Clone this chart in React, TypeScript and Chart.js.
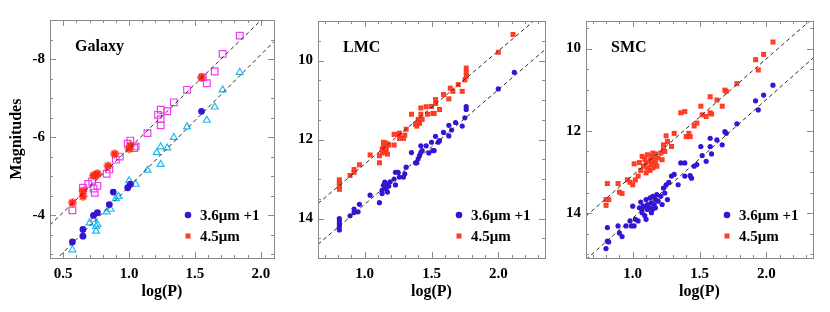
import React, { useEffect, useRef } from "react";
import { Chart, registerables } from "chart.js";
Chart.register(...registerables);

// ---------------- Galaxy ----------------
const galaxyLogP45 = [0.57, 0.65, 0.65, 0.73, 0.75, 0.76, 0.84, 0.89, 1.0, 1.01, 1.55];
const galaxyMag45 = [-4.32, -4.62, -4.48, -5.01, -5.03, -5.06, -5.26, -5.57, -5.7, -5.78, -7.53];

const galaxyLogP36 = [0.57, 0.65, 0.65, 0.73, 0.76, 0.85, 0.88, 0.99, 1.01, 1.55];
const galaxyMag36 = [-3.31, -3.63, -3.46, -3.99, -4.06, -4.27, -4.59, -4.7, -4.79, -6.66];

const galaxySqLogP = [0.57, 0.65, 0.69, 0.72, 0.74, 0.76, 0.73, 0.83, 0.85, 0.9, 0.93, 0.99, 1.01, 1.04, 1.05, 1.14, 1.22, 1.24, 1.24, 1.24, 1.29, 1.34, 1.44, 1.56, 1.59, 1.65, 1.71, 1.84];
const galaxySqMag = [-4.12, -4.7, -4.8, -4.86, -4.57, -4.75, -4.68, -5.06, -5.17, -5.42, -5.5, -5.83, -5.91, -5.72, -5.76, -6.1, -6.57, -6.7, -6.46, -6.3, -6.66, -6.89, -7.21, -7.53, -7.38, -7.68, -8.13, -8.6];

const galaxyTriLogP = [0.57, 0.7, 0.73, 0.75, 0.75, 0.76, 0.83, 0.86, 0.9, 0.92, 1.0, 1.05, 1.14, 1.21, 1.24, 1.24, 1.29, 1.34, 1.44, 1.59, 1.65, 1.71, 1.84];
const galaxyTriMag = [-3.11, -3.8, -3.88, -3.59, -3.71, -3.76, -4.08, -4.15, -4.42, -4.48, -4.88, -4.79, -5.15, -5.6, -5.75, -5.3, -5.72, -5.99, -6.26, -6.43, -6.77, -7.21, -7.66];

const galaxyFitSlopes = [-3.28, -3.38];
const galaxyFitZeros = [-5.71, -4.73]; // magnitude at log(P) = 1

// ---------------- LMC ----------------
const lmcLogP45 = [
  0.81, 0.81, 0.81, 0.81, 0.89, 0.92, 0.92, 0.96, 1.04, 1.11, 1.11,
  1.13, 1.14, 1.15, 1.16, 1.16, 1.17, 1.18, 1.13, 1.14, 1.15, 1.16,
  1.22, 1.22, 1.25, 1.26, 1.26, 1.29, 1.3, 1.31,
  1.35, 1.38, 1.39, 1.4, 1.41, 1.42, 1.42, 1.43, 1.46, 1.47, 1.5, 1.51, 1.52, 1.53, 1.53, 1.56,
  1.59, 1.63, 1.64, 1.66, 1.7, 1.73, 1.75, 1.76, 1.76, 1.76, 2.0, 2.11,
];
const lmcMag45 = [
  13.02, 13.1, 13.18, 13.26, 12.91, 12.76, 12.83, 12.64, 12.39, 12.59, 12.41,
  12.24, 12.16, 12.28, 12.09, 12.2, 12.37, 12.14, 12.34, 12.07, 12.32, 12.25,
  12.14, 11.87, 11.87, 11.84, 11.97, 11.97, 11.89, 11.74,
  11.36, 11.61, 11.66, 11.49, 11.59, 11.2, 11.36, 11.49, 11.17, 11.36, 11.16, 11.34, 11.34, 10.99, 11.09, 11.24,
  10.86, 10.97, 10.7, 10.78, 10.61, 10.78, 10.49, 10.19, 10.3, 10.39, 9.79, 9.34,
];

const lmcLogP36 = [
  0.81, 0.81, 0.81, 0.81, 0.81, 0.89, 0.92, 0.92, 0.95, 0.96, 1.04,
  1.11, 1.13, 1.13, 1.14, 1.15, 1.16, 1.16, 1.17, 1.18, 1.19,
  1.22, 1.23, 1.23, 1.25, 1.26, 1.29, 1.3, 1.31,
  1.35, 1.38, 1.39, 1.4, 1.41, 1.42, 1.42, 1.43, 1.46, 1.48, 1.5, 1.51, 1.52, 1.53, 1.55, 1.56,
  1.59, 1.63, 1.63, 1.65, 1.68, 1.73, 1.75, 1.76, 1.76, 2.0, 2.12,
];
const lmcMag36 = [
  14.0, 14.06, 14.13, 14.2, 14.29, 13.93, 13.76, 13.85, 13.83, 13.64, 13.41,
  13.6, 13.37, 13.29, 13.16, 13.08, 13.24, 13.12, 13.33, 13.18, 13.07,
  13.0, 13.15, 12.83, 12.83, 12.95, 12.95, 12.87, 12.7,
  12.33, 12.59, 12.59, 12.49, 12.41, 12.16, 12.33, 12.28, 12.16, 12.34, 12.07, 12.28, 12.28, 11.92, 12.07, 12.03,
  11.82, 11.91, 11.64, 11.76, 11.57, 11.66, 11.45, 11.17, 11.24, 10.72, 10.3,
];

const lmcFitSlopes = [-2.86, -2.9];
const lmcFitZeros = [12.62, 13.64];

// ---------------- SMC ----------------
const smcLogP45 = [
  0.81, 0.8, 0.8, 0.82, 0.89, 0.9, 0.92,
  0.96, 0.98, 1.0, 1.01, 1.02, 1.04, 1.05, 1.06, 1.07, 1.08, 1.09, 1.1, 1.1, 1.11, 1.11, 1.13, 1.13,
  1.14, 1.14, 1.15, 1.15, 1.16, 1.17, 1.17, 1.18, 1.19, 1.21, 1.22, 1.23, 1.23, 1.24, 1.25, 1.26, 1.29, 1.31,
  1.36, 1.39, 1.4, 1.42, 1.43, 1.46, 1.48, 1.51, 1.52, 1.55, 1.58, 1.58, 1.59, 1.63, 1.67, 1.69, 1.7,
  1.78, 1.92, 1.94, 1.98, 2.05,
];
const smcMag45 = [
  13.28, 13.67, 13.81, 13.67, 13.28, 13.49, 13.52,
  13.19, 13.25, 13.31, 12.8, 13.19, 13.1, 12.77, 12.96, 12.62, 12.86, 12.69, 12.78, 13.02, 12.58, 12.9, 12.72, 12.96,
  12.62, 12.82, 12.54, 12.9, 12.69, 12.78, 12.56, 12.86, 12.66, 12.54, 12.7, 12.46, 12.34, 12.5, 12.12, 12.26, 12.38, 12.06,
  11.56, 11.53, 12.14, 12.06, 12.14, 11.88, 11.81, 11.4, 11.61, 11.65, 11.17, 11.56, 11.59, 11.25, 11.4, 11.01, 11.04,
  10.85, 10.27, 10.52, 10.14, 9.84,
];

const smcLogP36 = [
  0.8, 0.81, 0.82, 0.81,
  0.89, 0.9, 0.92, 0.95, 0.98, 0.99, 1.01, 1.0, 1.02, 1.04, 1.05, 1.06, 1.07, 1.07, 1.08, 1.09,
  1.1, 1.1, 1.11, 1.11, 1.13, 1.13, 1.14, 1.14, 1.15, 1.15, 1.16, 1.17, 1.17, 1.18, 1.19, 1.21,
  1.22, 1.23, 1.24, 1.25, 1.26, 1.27, 1.29, 1.31, 1.34,
  1.36, 1.39, 1.39, 1.43, 1.44, 1.46, 1.48, 1.51, 1.52, 1.55, 1.58, 1.58, 1.59, 1.63, 1.67, 1.69, 1.7,
  1.78, 1.92, 1.94, 1.98, 2.05,
];
const smcMag36 = [
  14.86, 14.68, 14.7, 14.35,
  14.31, 14.48, 14.57, 14.31, 14.19, 14.31, 14.31, 13.83, 14.15, 14.19, 13.87, 13.73, 13.99, 13.91, 13.83, 14.06,
  13.67, 14.15, 13.79, 13.91, 13.63, 13.87, 13.99, 13.75, 13.9, 13.59, 13.79, 13.67, 13.87, 13.55, 13.71, 13.59,
  13.79, 13.39, 13.51, 13.31, 13.67, 13.25, 13.1, 13.06, 13.31,
  12.78, 12.78, 13.1, 13.09, 13.15, 12.86, 12.82, 12.38, 12.6, 12.74, 12.38, 12.18, 12.56, 12.22, 12.34, 12.02, 12.06,
  11.83, 11.27, 11.49, 11.13, 10.89,
];

const smcFitSlopes = [-2.83, -2.88];
const smcFitZeros = [13.08, 14.12];

// ---------------- labels ----------------
const panelTitles = ["Galaxy", "LMC", "SMC"];
const legendLabels = ["3.6\u03bcm +1", "4.5\u03bcm"];
const xAxisTitle = "log(P)";
const yAxisTitle = "Magnitudes";
const galaxyXTicks = [0.5, 1.0, 1.5, 2.0];
const cloudXTicks = [1.0, 1.5, 2.0];
const galaxyYTicks = [-8, -6, -4];
const lmcYTicks = [10, 12, 14];
const smcYTicks = [10, 12, 14];

// ---------------- styling ----------------
const FONT = '"Liberation Serif", "Times New Roman", Times, serif';
const BLUE = "#3414d8";
const RED = "#ff2a14";
const MAGENTA = "#ee3cee";
const CYAN = "#1fbbee";
const FRAME = "#8a8a8a";

function pts(xs: number[], ys: number[]) {
  return xs.map((x, i) => ({ x, y: ys[i] }));
}
function fitPts(slope: number, zero: number, xmin: number, xmax: number) {
  return [xmin, xmax].map((x) => ({ x, y: zero + slope * (x - 1) }));
}

function makeStar(r: number, lw: number, color: string) {
  const s = Math.ceil(2 * r + lw + 2);
  const c = document.createElement("canvas");
  c.width = s;
  c.height = s;
  const g = c.getContext("2d")!;
  g.strokeStyle = color;
  g.lineWidth = lw;
  g.lineCap = "butt";
  const m = s / 2;
  for (let k = 0; k < 4; k++) {
    const ang = (k * Math.PI) / 4;
    g.beginPath();
    g.moveTo(m - r * Math.cos(ang), m - r * Math.sin(ang));
    g.lineTo(m + r * Math.cos(ang), m + r * Math.sin(ang));
    g.stroke();
  }
  g.fillStyle = color;
  g.beginPath();
  g.arc(m, m, r * 0.45, 0, Math.PI * 2);
  g.fill();
  return c;
}

function makeBoxX(size: number) {
  const s = size + 2;
  const c = document.createElement("canvas");
  c.width = s;
  c.height = s;
  const g = c.getContext("2d")!;
  g.fillStyle = "rgba(255,160,140,0.8)";
  g.fillRect(1, 1, size, size);
  g.strokeStyle = "#ff2a10";
  g.lineWidth = 1.2;
  g.beginPath();
  g.moveTo(1.5, 1.5);
  g.lineTo(size + 0.5, size + 0.5);
  g.moveTo(size + 0.5, 1.5);
  g.lineTo(1.5, size + 0.5);
  g.stroke();
  g.lineWidth = 1;
  g.strokeStyle = "rgba(255,50,30,0.9)";
  g.strokeRect(1.5, 1.5, size - 1, size - 1);
  return c;
}

const decorPlugin = {
  id: "decor",
  afterDatasetsDraw(chart: any, _args: any, o: any) {
    const { ctx, chartArea: a, scales } = chart;
    const xs = scales.x;
    const ys = scales.y;
    ctx.save();
    ctx.strokeStyle = FRAME;
    ctx.lineWidth = 1;
    const tick = (scale: any, step: number, major: number, horiz: boolean) => {
      const lo = Math.min(scale.min, scale.max);
      const hi = Math.max(scale.min, scale.max);
      for (let i = Math.ceil(lo / step - 1e-9); i <= Math.floor(hi / step + 1e-9); i++) {
        const v = i * step;
        const r = v / major;
        const isMaj = Math.abs(r - Math.round(r)) < 1e-6;
        const len = isMaj ? 6 : 3;
        const p = Math.round(scale.getPixelForValue(v)) + 0.5;
        ctx.beginPath();
        if (horiz) {
          ctx.moveTo(p, a.bottom);
          ctx.lineTo(p, a.bottom - len);
          ctx.moveTo(p, a.top);
          ctx.lineTo(p, a.top + len);
        } else {
          ctx.moveTo(a.left, p);
          ctx.lineTo(a.left + len, p);
          ctx.moveTo(a.right, p);
          ctx.lineTo(a.right - len, p);
        }
        ctx.stroke();
      }
    };
    tick(xs, o.xMinor, o.xMajor, true);
    tick(ys, o.yMinor, o.yMajor, false);
    ctx.strokeRect(Math.round(a.left) + 0.5, Math.round(a.top) + 0.5, Math.round(a.width), Math.round(a.height));

    ctx.fillStyle = "#000";
    ctx.font = `bold 16px ${FONT}`;
    ctx.textAlign = "left";
    ctx.textBaseline = "alphabetic";
    ctx.fillText(o.title, a.left + 25, a.top + 31);

    ctx.font = `bold 15px ${FONT}`;
    ctx.textBaseline = "middle";
    const mx = a.right - 86;
    const tx = a.right - 74;
    const y1 = a.bottom - 43;
    const y2 = a.bottom - 22;
    ctx.fillStyle = BLUE;
    ctx.beginPath();
    ctx.arc(mx, y1, 3.3, 0, Math.PI * 2);
    ctx.fill();
    const lm = o.legendMarker;
    ctx.drawImage(lm, mx - lm.width / 2, y2 - lm.height / 2);
    ctx.fillStyle = "#000";
    ctx.fillText(legendLabels[0], tx, y1 + 1);
    ctx.fillText(legendLabels[1], tx, y2 + 1);
    ctx.restore();
  },
};

function buildConfig(p: any) {
  const tickFont = { family: FONT, size: 15, weight: "bold" as const };
  const titleFont = { family: FONT, size: 16, weight: "bold" as const };
  return {
    type: "scatter" as const,
    data: { datasets: p.datasets },
    plugins: [decorPlugin],
    options: {
      responsive: false,
      animation: false as const,
      events: [] as any[],
      layout: { padding: { left: 0, top: p.padTop, right: p.padRight, bottom: 0 } },
      plugins: {
        legend: { display: false },
        tooltip: { enabled: false },
        decor: {
          xMinor: 0.1,
          xMajor: 0.5,
          yMinor: 0.5,
          yMajor: 2,
          title: p.title,
          legendMarker: p.legendMarker,
        },
      },
      scales: {
        x: {
          type: "linear" as const,
          min: p.xMin,
          max: p.xMax,
          grid: { display: false, drawTicks: false },
          border: { display: false },
          afterBuildTicks: (s: any) => {
            s.ticks = p.xTicks.map((v: number) => ({ value: v }));
          },
          afterFit: (s: any) => {
            s.height = 54;
          },
          ticks: {
            autoSkip: false,
            maxRotation: 0,
            padding: 7,
            color: "#000",
            font: tickFont,
            callback: (v: any) => Number(v).toFixed(1),
          },
          title: {
            display: true,
            text: xAxisTitle,
            color: "#000",
            font: titleFont,
            padding: { top: 0, bottom: 11 },
          },
        },
        y: {
          type: "linear" as const,
          reverse: true,
          min: p.yMin,
          max: p.yMax,
          grid: { display: false, drawTicks: false },
          border: { display: false },
          afterBuildTicks: (s: any) => {
            s.ticks = p.yTicks.map((v: number) => ({ value: v }));
          },
          afterFit: (s: any) => {
            s.width = p.yAxisWidth;
          },
          ticks: {
            autoSkip: false,
            padding: 5,
            color: "#000",
            font: tickFont,
            callback: (v: any) => String(v),
          },
          title: {
            display: !!p.yTitle,
            text: p.yTitle || "",
            color: "#000",
            font: titleFont,
            padding: { top: 7, bottom: 0 },
          },
        },
      },
    },
  };
}

function lineDs(slope: number, zero: number, xmin: number, xmax: number) {
  return {
    data: fitPts(slope, zero, xmin, xmax),
    showLine: true,
    pointRadius: 0,
    borderColor: "#2a2a2a",
    borderWidth: 1,
    borderDash: [4, 3],
    order: 0,
  };
}

function makePanels() {
  const bigStar = makeStar(4.3, 2, RED);
  const boxX = makeBoxX(5);
  const galaxy = {
    yAxisWidth: 50, padTop: 20, padRight: 4,
    xMin: 0.4, xMax: 2.1, yMin: -9, yMax: -2.9,
    xTicks: galaxyXTicks, yTicks: galaxyYTicks,
    title: panelTitles[0], yTitle: yAxisTitle, legendMarker: boxX,
    datasets: [
      lineDs(galaxyFitSlopes[0], galaxyFitZeros[0], 0.4, 2.1),
      lineDs(galaxyFitSlopes[1], galaxyFitZeros[1], 0.4, 2.1),
      { data: pts(galaxyLogP45, galaxyMag45), pointStyle: bigStar, pointRadius: 5, order: 1 },
      { data: pts(galaxyLogP36, galaxyMag36), pointStyle: "circle", pointRadius: 3.4, backgroundColor: BLUE, borderWidth: 0, order: 2 },
      { data: pts(galaxySqLogP, galaxySqMag), pointStyle: "rect", pointRadius: 4.7, backgroundColor: "rgba(0,0,0,0)", borderColor: MAGENTA, borderWidth: 1.2, order: 3 },
      { data: pts(galaxyTriLogP, galaxyTriMag), pointStyle: "triangle", pointRadius: 4, backgroundColor: "rgba(0,0,0,0)", borderColor: CYAN, borderWidth: 1.2, order: 4 },
    ],
  };
  const lmc = {
    yAxisWidth: 48, padTop: 21, padRight: 4,
    xMin: 0.65, xMax: 2.35, yMin: 9, yMax: 15,
    xTicks: cloudXTicks, yTicks: lmcYTicks,
    title: panelTitles[1], yTitle: "", legendMarker: boxX,
    datasets: [
      lineDs(lmcFitSlopes[0], lmcFitZeros[0], 0.65, 2.35),
      lineDs(lmcFitSlopes[1], lmcFitZeros[1], 0.65, 2.35),
      { data: pts(lmcLogP45, lmcMag45), pointStyle: boxX, pointRadius: 4, order: 1 },
      { data: pts(lmcLogP36, lmcMag36), pointStyle: "circle", pointRadius: 2.6, backgroundColor: BLUE, borderWidth: 0, order: 2 },
    ],
  };
  const smc = {
    yAxisWidth: 46, padTop: 21, padRight: 17,
    xMin: 0.65, xMax: 2.35, yMin: 9.33, yMax: 15.09,
    xTicks: cloudXTicks, yTicks: smcYTicks,
    title: panelTitles[2], yTitle: "", legendMarker: boxX,
    datasets: [
      lineDs(smcFitSlopes[0], smcFitZeros[0], 0.65, 2.35),
      lineDs(smcFitSlopes[1], smcFitZeros[1], 0.65, 2.35),
      { data: pts(smcLogP45, smcMag45), pointStyle: boxX, pointRadius: 4, order: 1 },
      { data: pts(smcLogP36, smcMag36), pointStyle: "circle", pointRadius: 2.6, backgroundColor: BLUE, borderWidth: 0, order: 2 },
    ],
  };
  return [galaxy, lmc, smc];
}

const canvasLayout = [
  { left: 0, width: 280 },
  { left: 270, width: 280 },
  { left: 540, width: 290 },
];

export default function App() {
  const r0 = useRef<HTMLCanvasElement>(null);
  const r1 = useRef<HTMLCanvasElement>(null);
  const r2 = useRef<HTMLCanvasElement>(null);
  useEffect(() => {
    const panels = makePanels();
    const refs = [r0, r1, r2];
    const charts = panels.map((p, i) => new Chart(refs[i].current as HTMLCanvasElement, buildConfig(p) as any));
    return () => charts.forEach((c) => c.destroy());
  }, []);
  const refs = [r0, r1, r2];
  return (
    <div style={{ position: "absolute", left: 0, top: 0, width: 830, height: 312, background: "#fff" }}>
      {canvasLayout.map((c, i) => (
        <canvas
          key={i}
          ref={refs[i]}
          width={c.width}
          height={312}
          style={{ position: "absolute", left: c.left, top: 0, width: c.width, height: 312 }}
        />
      ))}
    </div>
  );
}
